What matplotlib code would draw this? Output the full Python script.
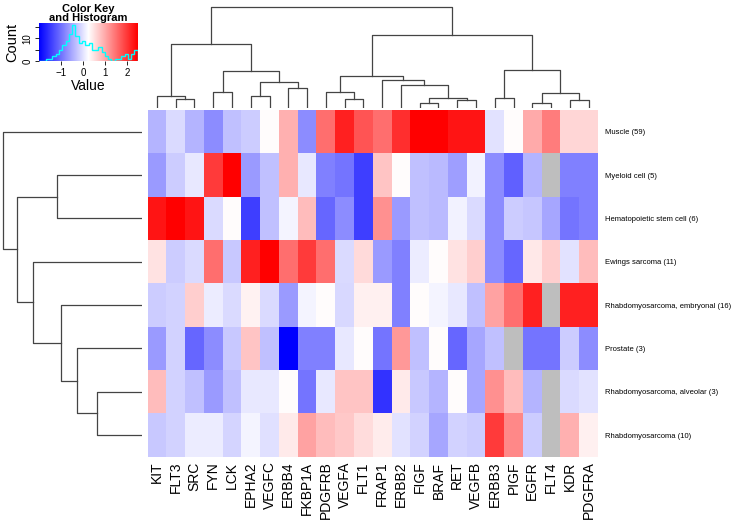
import matplotlib
matplotlib.use('Agg')
import matplotlib.pyplot as plt
import numpy as np

plt.rcParams['font.family'] = ['Liberation Sans', 'DejaVu Sans']

genes = ['KIT', 'FLT3', 'SRC', 'FYN', 'LCK', 'EPHA2', 'VEGFC', 'ERBB4', 'FKBP1A',
         'PDGFRB', 'VEGFA', 'FLT1', 'FRAP1', 'ERBB2', 'FIGF', 'BRAF', 'RET', 'VEGFB',
         'ERBB3', 'PIGF', 'EGFR', 'FLT4', 'KDR', 'PDGFRA']
tissues = ['Muscle (59)', 'Myeloid cell (5)', 'Hematopoietic stem cell (6)',
           'Ewings sarcoma (11)', 'Rhabdomyosarcoma, embryonal (16)', 'Prostate (3)',
           'Rhabdomyosarcoma, alveolar (3)', 'Rhabdomyosarcoma (10)']
nan = np.nan
values = np.array([
    [-0.41, -0.07, -0.41, -0.76, -0.30, -0.19, 0.27, 0.95, -0.76, 1.52, 2.21, 1.75, 1.52, 2.09, 2.55, 2.55, 2.32, 2.32, 0.00, 0.27, 1.00, 1.41, 0.61, 0.61],
    [-0.64, -0.19, 0.04, 1.98, 2.55, -0.64, -0.30, 0.95, 0.04, -0.87, -0.98, -1.44, 0.77, 0.27, -0.30, -0.35, -0.60, 0.14, -0.76, -1.14, -0.41, nan, -0.87, -0.87],
    [2.32, 2.55, 2.32, -0.07, 0.27, -1.44, -0.30, 0.16, 0.84, -1.10, -0.76, -1.44, 1.23, -0.64, -0.30, -0.35, 0.14, -0.07, -0.76, -0.19, -0.25, -0.53, -0.98, -0.87],
    [0.50, -0.19, -0.07, 1.52, -0.23, 2.21, 2.55, 1.52, 1.98, 1.52, -0.07, 0.57, -0.64, -0.87, 0.09, 0.27, 0.50, 0.68, -0.76, -1.10, 0.45, 0.68, 0.00, 0.84],
    [-0.19, -0.14, 0.68, 0.09, -0.07, 0.36, -0.07, -0.64, 0.16, 0.27, -0.10, 0.38, 0.38, -0.87, 0.27, 0.16, 0.04, -0.30, 1.07, 1.52, 2.21, nan, 2.21, 2.21],
    [-0.64, -0.14, -1.10, -0.76, -0.23, 0.77, -0.30, -2.00, -0.87, -0.87, 0.04, 0.27, -0.98, 1.15, -0.30, 0.27, -1.10, -0.53, -0.30, nan, -0.98, -0.98, -0.19, -0.76],
    [0.84, -0.14, -0.30, -0.64, -0.30, 0.04, 0.04, 0.27, -0.98, 0.04, 0.77, 0.77, -1.55, 0.43, -0.23, -0.41, 0.27, -0.53, 1.23, 0.84, -0.41, nan, -0.07, 0.00],
    [-0.23, -0.14, 0.09, 0.09, -0.12, 0.16, -0.03, 0.43, 1.07, 0.84, 0.73, 0.55, 0.41, 0.00, -0.14, -0.53, -0.14, -0.19, 1.98, 1.30, -0.19, nan, 0.95, 0.38],
])

# merges: (left, right, height); ids >= n are earlier merges
col_merges = [(1, 2, 9.3), (0, 24, 12), (3, 4, 15.7), (5, 6, 12), (7, 8, 19.7),
              (27, 28, 25.7), (26, 29, 37), (25, 30, 63.7), (10, 11, 8.7), (9, 32, 16.3),
              (14, 15, 4.7), (16, 17, 8), (34, 35, 10.3), (13, 36, 23), (12, 37, 27.7),
              (33, 38, 31.7), (18, 19, 10.3), (20, 21, 5.3), (22, 23, 8), (41, 42, 15.3),
              (40, 43, 38.3), (39, 44, 73.3), (31, 45, 101)]
row_merges = [(1, 2, 85.3), (6, 7, 45.3), (5, 9, 65), (4, 10, 81.3), (3, 11, 108.7),
              (8, 12, 124.7), (0, 13, 138.7)]

key_edges = np.linspace(-2.0, 2.5, 31)
key_counts = [0, 0, 1, 1, 2, 3, 5, 7, 9, 12, 16, 11, 8, 9, 7, 8, 5, 5, 6, 4, 2, 1, 0, 1, 1, 2, 3, 1, 3, 5]

W, H = 732, 523
fig = plt.figure(figsize=(W / 100, H / 100), dpi=100)


def box(x0, y0, x1, y1):
    return fig.add_axes([x0 / W, 1 - y1 / H, (x1 - x0) / W, (y1 - y0) / H])


def draw_dendro(ax, merges, n, vertical):
    pos = {i: i + 0.5 for i in range(n)}
    hgt = {i: 0.0 for i in range(n)}
    for k, (a, b, h) in enumerate(merges):
        xs = [pos[a], pos[a], pos[b], pos[b]]
        ys = [hgt[a], h, h, hgt[b]]
        if vertical:
            ax.plot(xs, ys, color='#444444', lw=0.9)
        else:
            ax.plot(ys, xs, color='#444444', lw=0.9)
        pos[n + k] = (pos[a] + pos[b]) / 2
        hgt[n + k] = h
    ax.axis('off')


cmap = plt.get_cmap('bwr').copy()
cmap.set_bad('#bebebe')
vmin, vmax = -2.0, 2.5

# heatmap
ax = box(147.5, 110, 598, 456.7)
ax.pcolormesh(np.ma.masked_invalid(values), cmap=cmap, vmin=vmin, vmax=vmax)
ax.set_xlim(0, len(genes))
ax.set_ylim(len(tissues), 0)
ax.set_xticks(np.arange(len(genes)) + 0.5)
ax.set_xticklabels(genes, rotation=90, fontsize=10)
ax.set_yticks(np.arange(len(tissues)) + 0.5)
ax.set_yticklabels(tissues, fontsize=5.5)
ax.yaxis.tick_right()
ax.tick_params(axis='x', length=0, pad=3.5)
ax.tick_params(axis='y', length=0, pad=5)
for s in ax.spines.values():
    s.set_visible(False)

# column dendrogram
axc = box(147.5, 0, 598, 108)
draw_dendro(axc, col_merges, len(genes), True)
axc.set_xlim(0, len(genes))
axc.set_ylim(0, 108)

# row dendrogram
axr = box(0, 110, 142, 456.7)
draw_dendro(axr, row_merges, len(tissues), False)
axr.set_xlim(142, 0)
axr.set_ylim(len(tissues), 0)

# colour key
axk = box(39.3, 23.3, 137.7, 61)
axk.imshow(np.linspace(vmin, vmax, 256)[None, :], cmap=cmap, vmin=vmin, vmax=vmax,
           aspect='auto', extent=[vmin, vmax, 0, 16.7])
axk.stairs(key_counts, key_edges, color='cyan', lw=1)
axk.set_xlim(vmin, vmax)
axk.set_ylim(0, 16.7)
axk.set_xticks([-1, 0, 1, 2])
axk.set_xticklabels(['\u22121', '0', '1', '2'], fontsize=7)
axk.set_yticks([0, 5, 10, 15])
axk.set_yticklabels(['0', '', '10', ''], fontsize=7, rotation=90, va='center')
axk.tick_params(length=3, width=0.6, pad=2)
axk.set_xlabel('Value', fontsize=10, labelpad=1)
axk.set_ylabel('Count', fontsize=10.5, labelpad=2)
axk.set_title('Color Key\nand Histogram', fontsize=8, fontweight='bold', pad=0.5, linespacing=0.95)
for s in axk.spines.values():
    s.set_visible(False)

fig.savefig('out.png', dpi=100)
